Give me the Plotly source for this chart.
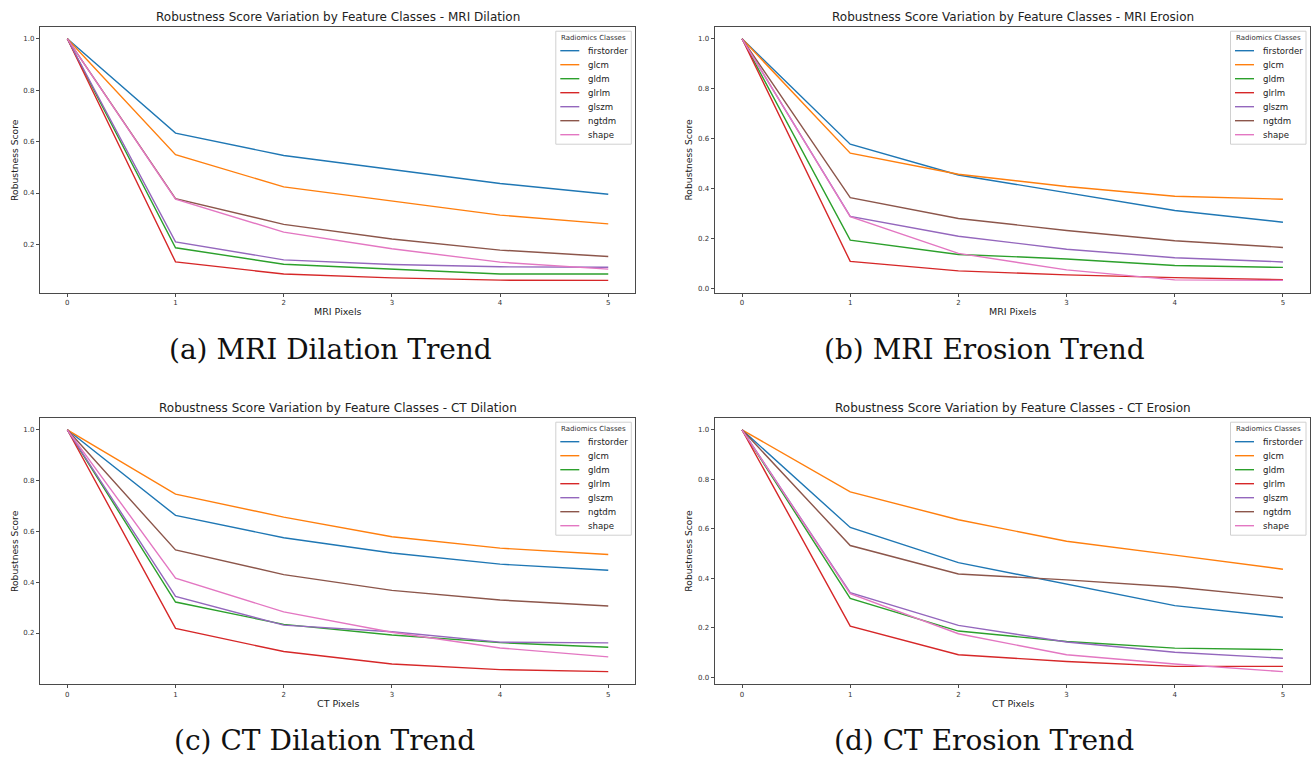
import plotly.graph_objects as go

W, H = 1313, 762

# ---- data -------------------------------------------------------------
pixels = [0, 1, 2, 3, 4, 5]
classes = ["firstorder", "glcm", "gldm", "glrlm", "glszm", "ngtdm", "shape"]
class_colors = ["#1f77b4", "#ff7f0e", "#2ca02c", "#d62728",
                "#9467bd", "#8c564b", "#e377c2"]

mri_dilation = {
    "firstorder": [1.0, 0.633, 0.546, 0.491, 0.437, 0.395],
    "glcm":       [1.0, 0.549, 0.424, 0.369, 0.314, 0.280],
    "gldm":       [1.0, 0.187, 0.123, 0.103, 0.085, 0.085],
    "glrlm":      [1.0, 0.132, 0.085, 0.070, 0.061, 0.060],
    "glszm":      [1.0, 0.210, 0.140, 0.122, 0.113, 0.111],
    "ngtdm":      [1.0, 0.378, 0.278, 0.221, 0.178, 0.153],
    "shape":      [1.0, 0.376, 0.248, 0.183, 0.131, 0.104],
}

mri_erosion = {
    "firstorder": [1.0, 0.578, 0.455, 0.383, 0.313, 0.266],
    "glcm":       [1.0, 0.542, 0.458, 0.409, 0.370, 0.358],
    "gldm":       [1.0, 0.194, 0.137, 0.119, 0.093, 0.085],
    "glrlm":      [1.0, 0.109, 0.071, 0.055, 0.044, 0.036],
    "glszm":      [1.0, 0.289, 0.210, 0.158, 0.124, 0.107],
    "ngtdm":      [1.0, 0.364, 0.281, 0.233, 0.192, 0.165],
    "shape":      [1.0, 0.288, 0.141, 0.075, 0.035, 0.033],
}

ct_dilation = {
    "firstorder": [1.0, 0.663, 0.575, 0.515, 0.471, 0.447],
    "glcm":       [1.0, 0.747, 0.656, 0.579, 0.534, 0.509],
    "gldm":       [1.0, 0.322, 0.234, 0.192, 0.162, 0.144],
    "glrlm":      [1.0, 0.218, 0.127, 0.078, 0.056, 0.048],
    "glszm":      [1.0, 0.344, 0.231, 0.205, 0.164, 0.161],
    "ngtdm":      [1.0, 0.527, 0.430, 0.368, 0.330, 0.306],
    "shape":      [1.0, 0.416, 0.283, 0.203, 0.141, 0.106],
}

ct_erosion = {
    "firstorder": [1.0, 0.605, 0.463, 0.375, 0.289, 0.242],
    "glcm":       [1.0, 0.749, 0.636, 0.549, 0.493, 0.436],
    "gldm":       [1.0, 0.318, 0.186, 0.144, 0.117, 0.111],
    "glrlm":      [1.0, 0.206, 0.090, 0.063, 0.043, 0.043],
    "glszm":      [1.0, 0.341, 0.209, 0.142, 0.100, 0.076],
    "ngtdm":      [1.0, 0.532, 0.417, 0.393, 0.364, 0.321],
    "shape":      [1.0, 0.337, 0.175, 0.090, 0.053, 0.022],
}

y_ticks = [0.0, 0.2, 0.4, 0.6, 0.8, 1.0]

# ---- panel layout (pixel boxes: left, top, right, bottom) ------------
panels = [
    dict(data=mri_dilation,
         title="Robustness Score Variation by Feature Classes - MRI Dilation",
         xlabel="MRI Pixels", caption="(a) MRI Dilation Trend",
         box=(40.3, 26.7, 635.3, 292.5), cap_x=330),
    dict(data=mri_erosion,
         title="Robustness Score Variation by Feature Classes - MRI Erosion",
         xlabel="MRI Pixels", caption="(b) MRI Erosion Trend",
         box=(715.0, 26.7, 1310.0, 292.5), cap_x=984),
    dict(data=ct_dilation,
         title="Robustness Score Variation by Feature Classes - CT Dilation",
         xlabel="CT Pixels", caption="(c) CT Dilation Trend",
         box=(40.3, 417.7, 635.3, 683.7), cap_x=324),
    dict(data=ct_erosion,
         title="Robustness Score Variation by Feature Classes - CT Erosion",
         xlabel="CT Pixels", caption="(d) CT Erosion Trend",
         box=(715.0, 417.7, 1310.0, 683.7), cap_x=984),
]


def px(x):
    return x / W


def py(y):
    return 1 - y / H


SANS = "DejaVu Sans"
SERIF = "DejaVu Serif"
AXIS_COLOR = "#4a4a4a"

fig = go.Figure()
annotations = []
shapes = []
layout_axes = {}

for i, p in enumerate(panels):
    n = i + 1
    xref = "x" if n == 1 else f"x{n}"
    yref = "y" if n == 1 else f"y{n}"
    L, T, R, B = p["box"]

    for cls, color in zip(classes, class_colors):
        fig.add_trace(go.Scatter(
            x=pixels, y=p["data"][cls], mode="lines", name=cls,
            line=dict(color=color, width=1.4),
            xaxis=xref, yaxis=yref, showlegend=False,
        ))

    # matplotlib-style 5% margins around the data
    vals = [v for cls in classes for v in p["data"][cls]]
    lo, hi = min(vals), max(vals)
    pad = 0.05 * (hi - lo)
    xpad = 0.05 * (pixels[-1] - pixels[0])

    common = dict(showline=True, mirror=True, linecolor=AXIS_COLOR, linewidth=1,
                  ticks="outside", ticklen=3.5, tickwidth=0.8, tickcolor=AXIS_COLOR,
                  tickfont=dict(family=SANS, size=7, color="#333333"),
                  showgrid=False, zeroline=False)
    layout_axes["xaxis" if n == 1 else f"xaxis{n}"] = dict(
        domain=[px(L), px(R)], anchor=yref,
        range=[pixels[0] - xpad, pixels[-1] + xpad],
        tickvals=pixels, **common)
    layout_axes["yaxis" if n == 1 else f"yaxis{n}"] = dict(
        domain=[py(B), py(T)], anchor=xref,
        range=[lo - pad, hi + pad], tickvals=y_ticks, tickformat=".1f",
        **common)

    cx = (L + R) / 2
    # axes title and labels
    annotations.append(dict(text=p["title"], x=px(cx), y=py(T - 9.5),
                            xref="paper", yref="paper", showarrow=False,
                            xanchor="center", yanchor="middle",
                            font=dict(family=SANS, size=12, color="#222222")))
    annotations.append(dict(text=p["xlabel"], x=px(cx), y=py(B + 19.5),
                            xref="paper", yref="paper", showarrow=False,
                            xanchor="center", yanchor="middle",
                            font=dict(family=SANS, size=9.5, color="#222222")))
    annotations.append(dict(text="Robustness Score", x=px(L - 26), y=py((T + B) / 2),
                            xref="paper", yref="paper", showarrow=False,
                            textangle=-90, xanchor="center", yanchor="middle",
                            font=dict(family=SANS, size=9.2, color="#222222")))
    # sub-figure caption
    annotations.append(dict(text=p["caption"], x=px(p["cap_x"]), y=py(B + 57),
                            xref="paper", yref="paper", showarrow=False,
                            xanchor="center", yanchor="middle",
                            font=dict(family=SERIF, size=28, color="#111111")))

    # legend box in the upper right corner
    bx1 = R - 4
    bx0 = bx1 - 75.5
    by0 = T + 4.5
    by1 = by0 + 113
    shapes.append(dict(type="rect", xref="paper", yref="paper",
                       x0=px(bx0), x1=px(bx1), y0=py(by1), y1=py(by0),
                       line=dict(color="#d0d0d0", width=1),
                       fillcolor="rgba(255,255,255,0.85)", layer="above"))
    annotations.append(dict(text="Radiomics Classes", x=px((bx0 + bx1) / 2), y=py(by0 + 6.5),
                            xref="paper", yref="paper", showarrow=False,
                            xanchor="center", yanchor="middle",
                            font=dict(family=SANS, size=7, color="#333333")))
    for k, (cls, color) in enumerate(zip(classes, class_colors)):
        ey = by0 + 19.5 + 14 * k
        shapes.append(dict(type="line", xref="paper", yref="paper",
                           x0=px(bx0 + 4.5), x1=px(bx0 + 23.5), y0=py(ey), y1=py(ey),
                           line=dict(color=color, width=1.4), layer="above"))
        annotations.append(dict(text=cls, x=px(bx0 + 30), y=py(ey),
                                xref="paper", yref="paper", showarrow=False,
                                xanchor="left", yanchor="middle",
                                font=dict(family=SANS, size=8.6, color="#222222")))

fig.update_layout(
    width=W, height=H, autosize=False,
    margin=dict(l=0, r=0, t=0, b=0),
    paper_bgcolor="white", plot_bgcolor="white",
    annotations=annotations, shapes=shapes,
    **layout_axes,
)

fig.write_html("out.html")
